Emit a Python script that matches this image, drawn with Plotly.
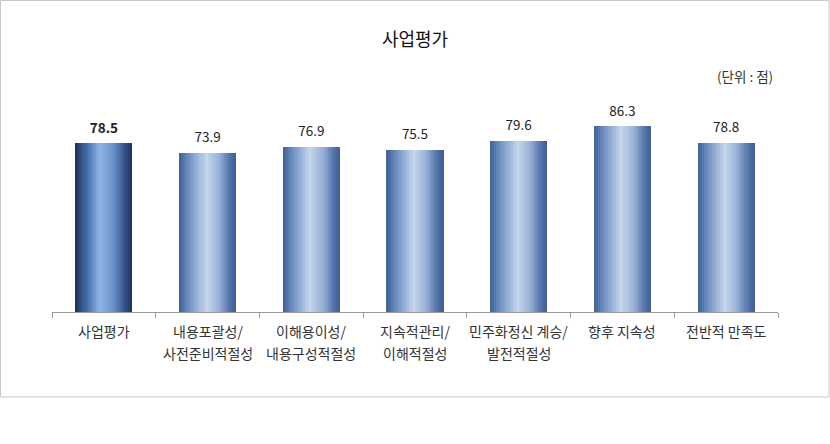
import plotly.graph_objects as go

categories = ["사업평가", "내용포괄성/사전준비적절성", "이해용이성/내용구성적절성", "지속적관리/이해적절성",
              "민주화정신 계승/발전적절성", "향후 지속성", "전반적 만족도"]
label_line1 = ["사업평가", "내용포괄성/", "이해용이성/", "지속적관리/", "민주화정신 계승/", "향후 지속성", "전반적 만족도"]
label_line2 = ["", "사전준비적절성", "내용구성적절성", "이해적절성", "발전적절성", "", ""]
scores = [78.5, 73.9, 76.9, 75.5, 79.6, 86.3, 78.8]

FONT = "Noto Sans CJK KR"

# horizontal gradient stops (position, rgb) to fake the cylinder look
dark_stops = [(0.0, (26, 46, 84)), (0.2, (70, 110, 170)), (0.42, (141, 180, 228)),
              (0.65, (110, 150, 205)), (0.85, (55, 90, 145)), (1.0, (28, 50, 88))]
light_stops = [(0.0, (62, 96, 150)), (0.2, (118, 150, 198)), (0.48, (198, 214, 236)),
               (0.7, (150, 176, 214)), (0.88, (86, 118, 170)), (1.0, (60, 92, 146))]


def grad(stops, t):
    for (p0, c0), (p1, c1) in zip(stops, stops[1:]):
        if p0 <= t <= p1:
            f = (t - p0) / (p1 - p0)
            r, g, b = [round(a + (bb - a) * f) for a, bb in zip(c0, c1)]
            return f"rgb({r},{g},{b})"
    r, g, b = stops[-1][1]
    return f"rgb({r},{g},{b})"


fig = go.Figure()

W = 0.55
N = 28
for i in range(N):
    t = (i + 0.5) / N
    cols = [grad(dark_stops, t)] + [grad(light_stops, t)] * (len(scores) - 1)
    fig.add_trace(go.Bar(
        x=categories, y=scores,
        width=W * (1 - i / N), offset=-W / 2 + i * W / N,
        marker=dict(color=cols, line=dict(width=0)),
        hoverinfo="skip", showlegend=False,
    ))

value_text = [f"<b>{scores[0]}</b>"] + [f"{v}" for v in scores[1:]]
fig.add_trace(go.Scatter(
    x=categories, y=scores, mode="markers+text", text=value_text,
    marker=dict(size=10, opacity=0),
    textposition="top center", textfont=dict(size=13.5, color="#222222", family=FONT),
    showlegend=False, hoverinfo="skip",
))

for c, l1, l2 in zip(categories, label_line1, label_line2):
    fig.add_annotation(x=c, y=0, xref="x", yref="y", text=l1, showarrow=False,
                       yanchor="middle", yshift=-19, font=dict(size=14, color="#333333", family=FONT))
    if l2:
        fig.add_annotation(x=c, y=0, xref="x", yref="y", text=l2, showarrow=False,
                           yanchor="middle", yshift=-41, font=dict(size=14, color="#333333", family=FONT))

fig.add_annotation(x=(775 - 52) / 726, y=1.098, xref="paper", yref="paper", text="(단위 : 점)", showarrow=False,
                   xanchor="right", yanchor="middle", font=dict(size=13.5, color="#333333", family=FONT))

# outer frame of the chart
fig.add_shape(type="rect", xref="paper", yref="paper",
              x0=-51.5 / 726, x1=777 / 726, y0=-85 / 215, y1=311.5 / 215,
              line=dict(color="#c8c8c8", width=1), fillcolor="rgba(0,0,0,0)")

fig.update_layout(
    width=830, height=444,
    margin=dict(l=52, r=52, t=97, b=132),
    barmode="overlay", bargap=0,
    plot_bgcolor="white", paper_bgcolor="white",
    title=dict(text="사업평가", x=0.5, xanchor="center", y=1 - 40 / 444, yanchor="middle",
               font=dict(size=18, color="#111111", family=FONT)),
    font=dict(family=FONT),
)
fig.update_xaxes(showticklabels=False, showline=True, linecolor="#9a9a9a", linewidth=1,
                 ticks="outside", tickson="boundaries", ticklen=5, tickcolor="#9a9a9a",
                 showgrid=False, fixedrange=True)
fig.update_yaxes(range=[0, 100], visible=False, showgrid=False, zeroline=False, fixedrange=True)

fig.write_html("out.html", config={"displayModeBar": False},
               post_script="document.body.style.margin='0';")
